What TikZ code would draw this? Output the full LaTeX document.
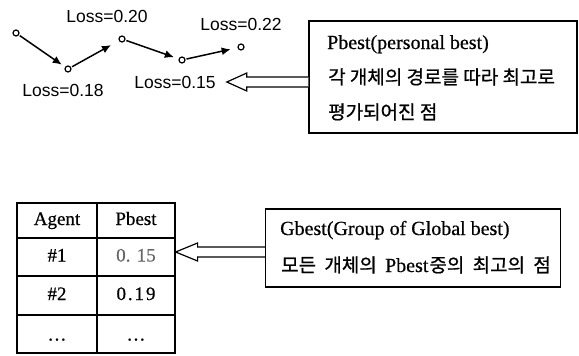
\documentclass[tikz,border=0pt]{standalone}
\usepackage{fontspec}
\setmainfont{Liberation Serif}[FakeBold=0.6]
\newfontfamily\krfont{Noto Sans CJK KR}[FakeBold=0.8]
\newfontfamily\lsfont{Liberation Sans}
\newfontfamily\spacedfont[LetterSpace=10,FakeBold=0.6]{Liberation Serif}
\usetikzlibrary{arrows.meta,calc}
\tikzset{
  pt/.style={circle, draw, line width=1.2pt, minimum size=6pt, inner sep=0pt},
  traj/.style={line width=1.5pt, -{Latex[length=9pt,width=8pt]}},
  losslbl/.style={font=\lsfont\fontsize{17.5}{17.5}\selectfont, inner sep=0pt},
  frame/.style={draw, line width=1.2pt, inner sep=0pt},
  latin/.style={font=\rmfamily\fontsize{20}{20}\selectfont, inner sep=0pt, anchor=base west},
  kor/.style={font=\krfont\fontsize{19}{19}\selectfont, inner sep=0pt, anchor=base west},
  cell/.style={draw, line width=1.2pt, inner sep=0pt, font=\rmfamily\fontsize{19}{19}\selectfont,
    text height=13pt, text depth=4pt},
  hollow/.style={draw, line width=1.2pt, fill=white, line join=miter},
}
\begin{document}
\begin{tikzpicture}[x=1pt,y=-1pt]
\useasboundingbox (0,0) rectangle (579,356);
% trajectory
\node[pt] (p1) at (16,33) {};
\node[pt] (p2) at (68,69) {};
\node[pt] (p3) at (122,39) {};
\node[pt] (p4) at (182,60) {};
\node[pt] (p5) at (241,47) {};
\draw[traj, shorten >=4pt, shorten <=1pt] (p1) -- (p2);
\draw[traj, shorten >=9pt, shorten <=1pt] (p2) -- (p3);
\draw[traj, shorten >=5pt, shorten <=1pt] (p3) -- (p4);
\draw[traj, shorten >=7pt, shorten <=1pt] (p4) -- (p5);
\node[losslbl] (l20) at (107,16) {Loss=0.20};
\node[losslbl] (l22) at (241,24) {Loss=0.22};
\node[losslbl] (l18) at (63,90) {Loss=0.18};
\node[losslbl] (l15) at (175,82) {Loss=0.15};
% Pbest box
\node[frame, minimum width=268pt, minimum height=112pt] (pbox) at (443,77) {};
\node[latin] (pb1) at (327,49) {Pbest(personal best)};
\node[kor] (pb2) at (328,84) {각 개체의 경로를 따라 최고로};
\node[kor] (pb3) at (328,119) {평가되어진 점};
% hollow arrow 1
\coordinate (t1) at ($(l15.east)+(11,0)$);
\path[hollow] ($(t1 -| pbox.west)+(0,-5)$) -- ($(t1)+(20,-5)$) -- ($(t1)+(20,-9)$) -- (t1)
  -- ($(t1)+(20,9)$) -- ($(t1)+(20,5)$) -- ($(t1 -| pbox.west)+(0,5)$);
% table
\node[cell, minimum width=80pt, minimum height=35pt] (c11) at (57,220.5) {Agent};
\node[cell, minimum width=78pt, minimum height=35pt] (c12) at (136,220.5) {Pbest};
\node[cell, minimum width=80pt, minimum height=38pt] (c21) at (57,257) {\#1};
\node[cell, minimum width=78pt, minimum height=38pt, text=black!60] (c22) at (136,257) {0. 15};
\node[cell, minimum width=80pt, minimum height=39pt] (c31) at (57,295.5) {\#2};
\node[cell, minimum width=78pt, minimum height=39pt] (c32) at (136,295.5) {\spacedfont 0.19};
\node[cell, minimum width=80pt, minimum height=38pt, text depth=-6pt] (c41) at (57,334) {\dots};
\node[cell, minimum width=78pt, minimum height=38pt, text depth=-6pt] (c42) at (136,334) {\dots};
% Gbest box
\node[frame, minimum width=295pt, minimum height=78pt] (gbox) at (413,248) {};
\node[latin] (gb1) at (280,235) {Gbest(Group of Global best)};
\node[kor] (gb2) at (281,272) {모든\hspace{4pt} 개체의\hspace{4pt} {\rmfamily\fontsize{20}{20}\selectfont Pbest}\hspace{1pt}중의\hspace{4pt} 최고의\hspace{4pt} 점};
% hollow arrow 2
\coordinate (t2) at ($(c22.east)+(0,-5)$);
\path[hollow] ($(t2 -| gbox.west)+(0,-5)$) -- ($(t2)+(22,-5)$) -- ($(t2)+(22,-9)$) -- (t2)
  -- ($(t2)+(22,9)$) -- ($(t2)+(22,5)$) -- ($(t2 -| gbox.west)+(0,5)$);
\end{tikzpicture}
\end{document}
